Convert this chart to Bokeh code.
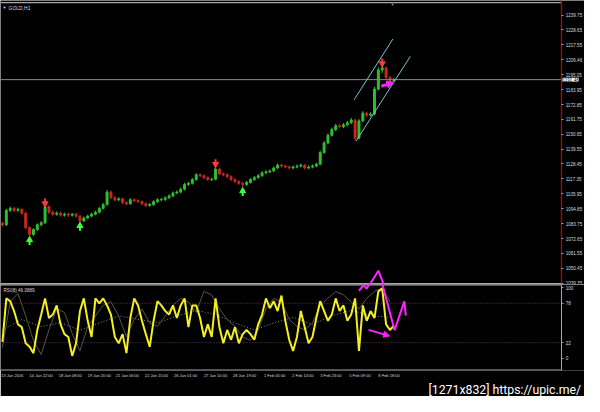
from bokeh.plotting import figure
from bokeh.layouts import column
from bokeh.models import (ColumnDataSource, Label, FixedTicker, Range1d, Arrow,
                          NormalHead, PrintfTickFormatter, Title)
from bokeh.embed import file_html
from bokeh.resources import INLINE

# ---------------- data ----------------
first_open = 1084.0
closes = [1082.9, 1093.7, 1095.2, 1093.7, 1094.4, 1091.6, 1080.8, 1075.7, 1079.3, 1082.9,
          1084.4, 1096.6, 1092.3, 1090.8, 1091.6, 1090.1, 1090.8, 1090.1, 1090.8, 1089.4,
          1085.8, 1088.0, 1089.4, 1090.8, 1092.3, 1095.2, 1098.0, 1107.4, 1103.1, 1101.6,
          1102.3, 1099.5, 1098.7, 1101.6, 1100.9, 1100.2, 1098.7, 1097.3, 1098.0, 1100.2,
          1101.6, 1101.9, 1103.1, 1104.5, 1106.7, 1107.4, 1109.5, 1113.1, 1113.9, 1116.7,
          1120.3, 1119.6, 1118.2, 1116.7, 1117.0, 1124.6, 1121.0, 1120.3, 1118.9, 1116.7,
          1115.3, 1113.9, 1113.1, 1114.6, 1116.7, 1118.2, 1119.6, 1121.8, 1122.5, 1123.2,
          1125.4, 1127.5, 1126.8, 1126.1, 1125.4, 1126.1, 1126.8, 1127.5, 1125.4, 1126.1,
          1126.8, 1128.2, 1136.9, 1144.1, 1149.8, 1154.1, 1157.0, 1156.3, 1157.7, 1159.2,
          1161.3, 1147.7, 1160.6, 1166.4, 1164.9, 1165.7, 1184.4, 1198.7, 1200.2, 1193.0,
          1190.8, 1191.5]
highs = [1085.2, 1095.0, 1096.6, 1096.3, 1095.8, 1095.3, 1092.5, 1081.6, 1080.4, 1084.0,
         1085.6, 1098.9, 1097.4, 1093.5, 1092.9, 1092.6, 1092.0, 1091.9, 1091.8, 1091.7,
         1090.2, 1089.1, 1090.5, 1092.0, 1093.4, 1096.4, 1099.3, 1109.0, 1108.4, 1104.2,
         1103.5, 1103.2, 1100.6, 1102.8, 1102.7, 1102.0, 1101.1, 1099.7, 1099.2, 1101.3,
         1102.8, 1103.0, 1104.2, 1105.7, 1107.8, 1108.7, 1110.8, 1114.3, 1115.1, 1117.9,
         1121.6, 1121.4, 1120.7, 1119.3, 1118.1, 1127.5, 1125.7, 1122.1, 1121.3, 1119.8,
         1117.6, 1116.2, 1114.9, 1115.7, 1117.8, 1119.3, 1120.8, 1123.0, 1123.7, 1124.4,
         1126.5, 1128.8, 1128.6, 1127.9, 1127.2, 1127.3, 1128.0, 1128.7, 1128.4, 1127.3,
         1128.0, 1129.4, 1138.3, 1145.5, 1151.2, 1155.6, 1158.4, 1158.3, 1159.0, 1160.5,
         1162.8, 1162.0, 1162.0, 1167.9, 1167.5, 1167.1, 1186.0, 1200.5, 1202.0, 1201.3,
         1194.2, 1192.9]
lows = [1081.5, 1082.0, 1092.5, 1092.4, 1092.6, 1090.4, 1079.6, 1073.8, 1074.6, 1078.3,
        1081.8, 1083.5, 1091.0, 1089.6, 1089.7, 1088.9, 1089.0, 1088.8, 1089.0, 1088.2,
        1084.1, 1084.9, 1087.1, 1088.5, 1089.9, 1091.4, 1094.3, 1097.2, 1102.0, 1100.5,
        1100.6, 1098.3, 1097.5, 1097.9, 1099.8, 1099.1, 1097.6, 1096.1, 1096.4, 1097.1,
        1099.3, 1100.4, 1100.7, 1102.2, 1103.6, 1105.8, 1106.5, 1108.6, 1112.0, 1112.9,
        1115.8, 1118.5, 1117.1, 1115.6, 1115.5, 1116.2, 1120.0, 1119.2, 1117.8, 1115.6,
        1114.2, 1112.7, 1110.9, 1112.1, 1113.7, 1115.8, 1117.3, 1118.7, 1120.8, 1121.5,
        1122.3, 1124.5, 1125.7, 1125.0, 1124.2, 1124.4, 1125.1, 1125.8, 1124.3, 1124.4,
        1125.1, 1125.9, 1127.4, 1136.0, 1143.1, 1148.8, 1153.0, 1155.1, 1155.2, 1156.6,
        1158.2, 1145.9, 1146.8, 1159.6, 1163.6, 1163.8, 1164.8, 1183.2, 1196.5, 1191.6,
        1189.4, 1189.6]

price_ticks = [1239.75, 1228.65, 1217.55, 1206.46, 1195.05, 1183.95, 1172.85, 1161.75,
               1150.65, 1139.55, 1128.45, 1117.35, 1105.95, 1094.85, 1083.75, 1072.65,
               1061.55, 1050.45, 1039.35]
last_price = 1191.46

up_arrow_bars = [7, 20, 62]
up_arrow_prices = [1070.6, 1081.2, 1107.2]
down_arrow_bars = [11, 55, 98]
down_arrow_prices = [1099.8, 1129.2, 1204.5]

channel_x0 = [90.75, 91.25]
channel_y0 = [1176.4, 1145.5]
channel_x1 = [100.75, 105.25]
channel_y1 = [1221.8, 1208.8]

price_arrow_x = [97.75, 101.0]
price_arrow_y = [1186.5, 1189.4]

rsi = [23, 85, 81, 67, 48, 44, 21, 16, 7, 40,
       62, 85, 57, 62, 75, 48, 34, 30, 3, 21,
       67, 85, 53, 30, 85, 78, 85, 75, 62, 30,
       21, 34, 7, 57, 85, 75, 53, 34, 16, 53,
       81, 75, 67, 62, 75, 57, 75, 85, 44, 75,
       75, 57, 30, 48, 30, 85, 44, 21, 40, 26,
       44, 21, 34, 40, 34, 26, 48, 62, 85, 71,
       81, 67, 89, 53, 26, 10, 30, 67, 44, 21,
       30, 57, 81, 67, 53, 62, 85, 67, 75, 53,
       62, 85, 10, 75, 53, 67, 57, 95, 99, 48,
       40, 46.0889]
rsi_slow = [15, 80, 92, 60, 25, 5, 40, 70, 65, 35,
            10, 45, 60, 75, 80, 60, 30, 55, 70, 50,
            45, 60, 75, 85, 80, 65, 95, 90, 70, 55,
            45, 30, 25, 40, 70, 85, 80, 55, 45, 40,
            50, 75, 85, 95, 90, 80, 70, 85, 95, 100,
            80]
rsi_ma = [40, 55, 45, 50, 40, 50, 60, 55, 50, 60, 68, 62, 50, 40, 50, 58, 48, 60, 68, 60, 58]
rsi_levels = [78, 22]
rsi_ticks = [0, 22, 78, 100]

# magenta drawing in the RSI window (bar, RSI value); its peak crosses into the price window
zig_x = [92.0, 93.25, 94.0, 94.5, 97.0, 101.2, 103.7, 104.1]
zig_y = [95.9, 104.1, 98.6, 104.1, 126.0, 39.7, 80.8, 60.3]
zig_top_x = [94.8, 97.0, 98.4]
zig_top_y = [1038.3, 1048.6, 1038.3]
low_arrow_x = [94.5, 99.9]
low_arrow_y = [40.1, 31.5]

date_bars = [-0.45, 7.0, 14.5, 22.0, 29.25, 36.75, 44.25, 52.0, 59.5, 67.25, 74.5, 81.75, 89.25, 96.75]
date_labels = ["13 Jan 2016", "14 Jan 22:00", "18 Jan 08:00", "19 Jan 20:00", "21 Jan 06:00",
               "22 Jan 15:00", "26 Jan 01:00", "27 Jan 10:00", "28 Jan 19:00", "1 Feb 05:00",
               "2 Feb 14:00", "3 Feb 23:00", "5 Feb 09:00", "8 Feb 18:00"]

# ---------------- styling ----------------
BG = "black"
TXT = "#d8d8d8"
FONT = "Liberation Sans"
UP = "#2fc02f"
DN = "#c8281e"
MAG = "#ff22ff"
BORDER = "#a8a8a8"
AXIS_X = 144.3          # bar position of the price-scale border line

x_range = Range1d(-0.5, 150.2)

# ---------------- price panel ----------------
p = figure(width=584, height=284, x_range=x_range, y_range=Range1d(1038.25, 1250.64),
           output_backend="svg", toolbar_location=None, x_axis_location=None,
           y_axis_location="right", background_fill_color=BG, border_fill_color=BG,
           min_border_left=0, min_border_right=0, min_border_top=0, min_border_bottom=0,
           outline_line_color=None)
p.grid.visible = False
ya = p.yaxis[0]
ya.fixed_location = AXIS_X
ya.ticker = FixedTicker(ticks=price_ticks)
ya.formatter = PrintfTickFormatter(format="%.2f")
ya.axis_line_color = "#c00000"
ya.axis_line_width = 1.3
ya.major_tick_out = 2
ya.major_tick_in = 0
ya.minor_tick_line_color = None
ya.major_tick_line_color = "#a0a0a0"
ya.major_label_text_color = TXT
ya.major_label_text_font = FONT
ya.major_label_text_font_size = "4.6px"
ya.major_label_standoff = 2

# frame lines (top and bottom of the price window)
p.segment([-0.5, -0.5], [1249.1, 1038.9], [AXIS_X, AXIS_X], [1249.1, 1038.9],
          line_color=BORDER, line_width=1.2)

opens = [first_open] + closes[:-1]
idx = list(range(len(closes)))
colors = [UP if c >= o else DN for o, c in zip(opens, closes)]
src = ColumnDataSource(dict(x=idx, o=opens, c=closes, h=highs, l=lows,
                            top=[max(o, c) for o, c in zip(opens, closes)],
                            bot=[min(o, c) for o, c in zip(opens, closes)],
                            color=colors))
p.segment("x", "h", "x", "l", source=src, line_color="color", line_width=1)
p.vbar(x="x", top="top", bottom="bot", width=0.5, source=src,
       fill_color="color", line_color="color")

p.segment([-0.5], [last_price], [AXIS_X], [last_price], line_color="#8a8a8a", line_width=1)

# channel
p.segment(channel_x0, channel_y0, channel_x1, channel_y1, line_color="#7cc4d4", line_width=1)

# signal arrows
p.segment(up_arrow_bars, [v - 2.8 for v in up_arrow_prices], up_arrow_bars,
          [v + 0.4 for v in up_arrow_prices], line_color="#3cff3c", line_width=2)
p.scatter(up_arrow_bars, [v + 1.0 for v in up_arrow_prices], marker="triangle", size=6,
          fill_color="#3cff3c", line_color="#3cff3c")
p.segment(down_arrow_bars, [v + 2.8 for v in down_arrow_prices], down_arrow_bars,
          [v - 0.4 for v in down_arrow_prices], line_color="#ff3a3a", line_width=2)
p.scatter(down_arrow_bars, [v - 1.0 for v in down_arrow_prices], marker="inverted_triangle",
          size=6, fill_color="#ff3a3a", line_color="#ff3a3a")

p.add_layout(Arrow(x_start=price_arrow_x[0], y_start=price_arrow_y[0],
                   x_end=price_arrow_x[1], y_end=price_arrow_y[1],
                   line_color=MAG, line_width=3,
                   end=NormalHead(size=7, fill_color=MAG, line_color=MAG)))
p.line(zig_top_x, zig_top_y, line_color=MAG, line_width=2)

p.add_layout(Label(x=562, y=last_price, x_units="screen", y_units="data",
                   text="1191.46", text_color="black", text_font=FONT,
                   text_font_size="4.6px", text_baseline="middle",
                   background_fill_color="white"))
p.add_layout(Label(x=2, y=280, x_units="screen", y_units="screen", text="▼",
                   text_color=TXT, text_font_size="4px", text_baseline="top"))
p.add_layout(Label(x=8, y=280, x_units="screen", y_units="screen", text="GOLD,H1",
                   text_color=TXT, text_font=FONT, text_font_size="5px",
                   text_baseline="top"))
p.add_layout(Label(x=390, y=283, x_units="screen", y_units="screen", text="▼",
                   text_color="#9a9a9a", text_font_size="4px", text_baseline="top"))

# ---------------- RSI panel ----------------
r = figure(width=584, height=112, x_range=x_range, y_range=Range1d(-17.8, 104.8),
           output_backend="svg", toolbar_location=None, x_axis_location="below",
           y_axis_location="right", background_fill_color=BG, border_fill_color=BG,
           min_border_left=0, min_border_right=0, min_border_top=0, min_border_bottom=26,
           outline_line_color=None)
r.grid.visible = False
ry = r.yaxis[0]
ry.fixed_location = AXIS_X
ry.ticker = FixedTicker(ticks=rsi_ticks)
ry.axis_line_color = BORDER
ry.major_tick_out = 2
ry.major_tick_in = 0
ry.minor_tick_line_color = None
ry.major_tick_line_color = "#a0a0a0"
ry.major_label_text_color = TXT
ry.major_label_text_font = FONT
ry.major_label_text_font_size = "4.6px"
ry.major_label_standoff = 2

rx = r.xaxis[0]
date_centers = [b + 3.0 for b in date_bars]
rx.ticker = FixedTicker(ticks=date_centers)
rx.major_label_overrides = {c: t for c, t in zip(date_centers, date_labels)}
rx.axis_line_color = None
rx.major_tick_line_color = None
rx.minor_tick_line_color = None
rx.major_tick_out = 0
rx.major_tick_in = 0
rx.minor_tick_out = 0
rx.minor_tick_in = 0
rx.major_label_text_color = TXT
rx.major_label_text_font = FONT
rx.major_label_text_font_size = "4px"
rx.major_label_standoff = 2

r.segment([-0.5, -0.5], [104.1, -17.1], [AXIS_X, AXIS_X], [104.1, -17.1],
          line_color=BORDER, line_width=1.2)

for lv in rsi_levels:
    r.segment([-0.5], [lv], [AXIS_X], [lv], line_color="#7a2a7a", line_width=1,
              line_dash="1 2")

r.line(list(range(0, 101, 5)), rsi_ma, line_color="#8a8a8a", line_width=1, line_dash="1 2")
r.line(list(range(0, 101, 2)), rsi_slow, line_color="#55554a", line_width=1)
r.line(idx, rsi, line_color="#f4f020", line_width=2)

r.line(zig_x, zig_y, line_color=MAG, line_width=2)
r.add_layout(Arrow(x_start=low_arrow_x[0], y_start=low_arrow_y[0],
                   x_end=low_arrow_x[1], y_end=low_arrow_y[1],
                   line_color=MAG, line_width=2,
                   end=NormalHead(size=6, fill_color=MAG, line_color=MAG)))

r.add_layout(Label(x=3, y=83, x_units="screen", y_units="screen", text="RSI(8) 46.0889",
                   text_color=TXT, text_font=FONT, text_font_size="4.6px",
                   text_baseline="top"))
r.add_layout(Title(text="[1271x832] https://upic.me/", align="left", offset=428,
                   text_color="white", text_font="Roboto", text_font_size="12.3px",
                   text_font_style="normal", text_line_height=1.0, standoff=0), "below")

layout = column(p, r, spacing=0)
open("out.html", "w").write(file_html(layout, INLINE))
